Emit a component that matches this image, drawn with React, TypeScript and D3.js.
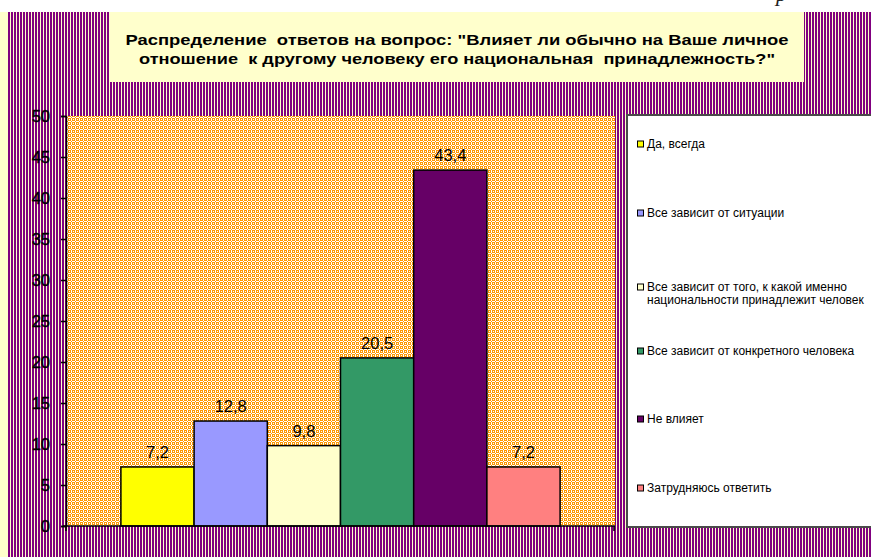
import React, { useEffect, useRef } from 'react';
import * as d3 from 'd3';

const categories = [
  'Да, всегда',
  'Все зависит от ситуации',
  'Все зависит от того, к какой именно национальности принадлежит человек',
  'Все зависит от конкретного человека',
  'Не влияет',
  'Затрудняюсь ответить',
];
const values = [7.2, 12.8, 9.8, 20.5, 43.4, 7.2];
const barColors = ['#FFFF00', '#9999FF', '#FFFFCC', '#339966', '#660066', '#FF8080'];
const legendLabels = [
  ['Да, всегда'],
  ['Все зависит от ситуации'],
  ['Все зависит от того, к какой именно', 'национальности принадлежит человек'],
  ['Все зависит от конкретного человека'],
  ['Не влияет'],
  ['Затрудняюсь ответить'],
];
const yTicks = [0, 5, 10, 15, 20, 25, 30, 35, 40, 45, 50];
const titleLines = [
  'Распределение  ответов на вопрос: "Влияет ли обычно на Ваше личное',
  'отношение  к другому человеку его национальная  принадлежность?"',
];

const FONT = 'Arial, "Liberation Sans", sans-serif';

export default function App() {
  const svgRef = useRef<SVGSVGElement>(null);

  useEffect(() => {
    const W = 871;
    const H = 557;
    const plot = { left: 66, right: 615, top: 116, bottom: 526 };

    const svg = d3.select(svgRef.current);
    svg.selectAll('*').remove();
    svg.attr('width', W).attr('height', H);

    const defs = svg.append('defs');

    // vertical purple stripes of the chart area
    const stripes = defs.append('pattern')
      .attr('id', 'stripes')
      .attr('patternUnits', 'userSpaceOnUse')
      .attr('x', 8).attr('y', 0)
      .attr('width', 3).attr('height', 10);
    stripes.append('rect').attr('width', 3).attr('height', 10).attr('fill', '#FFFFCC');
    stripes.append('rect').attr('width', 2).attr('height', 10).attr('fill', '#800080');

    // orange/white dotted fill of the plot area
    const dots = defs.append('pattern')
      .attr('id', 'dots')
      .attr('patternUnits', 'userSpaceOnUse')
      .attr('x', plot.left).attr('y', plot.top)
      .attr('width', 4).attr('height', 4);
    dots.append('rect').attr('width', 4).attr('height', 4).attr('fill', '#FF9900');
    [[1, 0], [0, 1], [2, 1], [1, 2], [3, 3], [3, 1], [1, 3]].forEach(([px, py]) => {
      dots.append('rect').attr('x', px).attr('y', py).attr('width', 1).attr('height', 1).attr('fill', '#FFFFFF');
    });

    // backgrounds
    svg.append('rect').attr('width', W).attr('height', H).attr('fill', '#FFFFFF');
    svg.append('rect').attr('x', 0).attr('y', 12).attr('width', W).attr('height', H - 12).attr('fill', '#FFFFCC');
    svg.append('rect').attr('x', 8).attr('y', 12).attr('width', W - 8).attr('height', H - 12)
      .attr('fill', 'url(#stripes)').attr('shape-rendering', 'crispEdges');

    // stray italic glyph cut off at the top edge
    svg.append('text')
      .attr('x', 776).attr('y', 1)
      .attr('font-family', '"Liberation Serif", "DejaVu Serif", serif')
      .attr('font-style', 'italic')
      .attr('font-size', 22)
      .attr('fill', '#222')
      .text('р');

    // title box
    svg.append('rect').attr('x', 110).attr('y', 12).attr('width', 694).attr('height', 70)
      .attr('fill', '#FFFFCC').attr('shape-rendering', 'crispEdges');
    const titleWidths = [663, 636];
    titleLines.forEach((t, i) => {
      svg.append('text')
        .attr('x', 457).attr('y', 45 + i * 19)
        .attr('text-anchor', 'middle')
        .attr('font-family', FONT)
        .attr('font-weight', 'bold')
        .attr('font-size', 15)
        .attr('fill', '#000')
        .style('white-space', 'pre')
        .attr('textLength', titleWidths[i])
        .attr('lengthAdjust', 'spacingAndGlyphs')
        .text(t);
    });

    // plot area
    svg.append('rect')
      .attr('x', plot.left).attr('y', plot.top)
      .attr('width', plot.right - plot.left).attr('height', plot.bottom - plot.top)
      .attr('fill', 'url(#dots)').attr('shape-rendering', 'crispEdges');

    // Scales
    const xScale = d3.scaleBand<string>()
      .domain(categories)
      .range([plot.left, plot.right])
      .paddingInner(0)
      .paddingOuter(0.75);

    const yScale = d3.scaleLinear()
      .domain([0, 50])
      .range([plot.bottom, plot.top]);

    // bars
    svg.selectAll('.bar')
      .data(values)
      .enter()
      .append('rect')
      .attr('class', 'bar')
      .attr('x', (d, i) => xScale(categories[i]) as number)
      .attr('y', d => yScale(d))
      .attr('width', xScale.bandwidth())
      .attr('height', d => yScale(0) - yScale(d))
      .attr('fill', (d, i) => barColors[i])
      .attr('stroke', '#000')
      .attr('stroke-width', 1.5);

    // value labels
    const fmt = (v: number) => d3.format('.1f')(v).replace('.', ',');
    svg.selectAll('.val')
      .data(values)
      .enter()
      .append('text')
      .attr('class', 'val')
      .attr('x', (d, i) => (xScale(categories[i]) as number) + xScale.bandwidth() / 2)
      .attr('y', d => yScale(d) - 9)
      .attr('text-anchor', 'middle')
      .attr('font-family', FONT)
      .attr('font-size', 16.5)
      .attr('fill', '#000')
      .text(d => fmt(d));

    // y axis
    const yAxis = d3.axisLeft(yScale).tickValues(yTicks).tickSize(5).tickPadding(11);
    const yAxisG = svg.append('g')
      .attr('transform', `translate(${plot.left},0)`)
      .call(yAxis);
    yAxisG.select('.domain').attr('stroke', '#000').attr('stroke-width', 1.5);
    yAxisG.selectAll('.tick line').attr('stroke', '#000').attr('stroke-width', 1.5);
    yAxisG.selectAll('.tick text')
      .attr('font-family', FONT)
      .attr('font-size', 16.5)
      .attr('fill', '#000')
      .attr('stroke', '#000')
      .attr('stroke-width', 0.4);

    // x axis (category axis with end ticks only)
    const xAxisG = svg.append('g');
    xAxisG.append('line')
      .attr('x1', plot.left - 3).attr('x2', plot.right)
      .attr('y1', plot.bottom).attr('y2', plot.bottom)
      .attr('stroke', '#000').attr('stroke-width', 1.5);
    [plot.left, plot.right - 1].forEach(xx => {
      xAxisG.append('line')
        .attr('x1', xx).attr('x2', xx)
        .attr('y1', plot.bottom).attr('y2', plot.bottom + 5)
        .attr('stroke', '#000').attr('stroke-width', 1.5);
    });

    // legend
    const legend = svg.append('g');
    legend.append('rect')
      .attr('x', 627).attr('y', 115)
      .attr('width', 260).attr('height', 412)
      .attr('fill', '#FFFFFF')
      .attr('stroke', '#4a4a4a')
      .attr('stroke-width', 2);

    const legendY = [144, 213, 287, 351, 419, 488];
    legendLabels.forEach((lines, i) => {
      const cy = legendY[i];
      legend.append('rect')
        .attr('x', 637.5).attr('y', cy - 3)
        .attr('width', 6).attr('height', 6)
        .attr('fill', barColors[i])
        .attr('stroke', '#000')
        .attr('stroke-width', 1);
      lines.forEach((ln, j) => {
        legend.append('text')
          .attr('x', 647).attr('y', cy + 4 + j * 13)
          .attr('font-family', FONT)
          .attr('font-size', 12)
          .attr('fill', '#000')
          .text(ln);
      });
    });
  }, []);

  return (
    <div style={{ position: 'absolute', left: 0, top: 0, width: 871, height: 557, background: '#ffffff' }}>
      <svg ref={svgRef} style={{ display: 'block' }}></svg>
    </div>
  );
}
